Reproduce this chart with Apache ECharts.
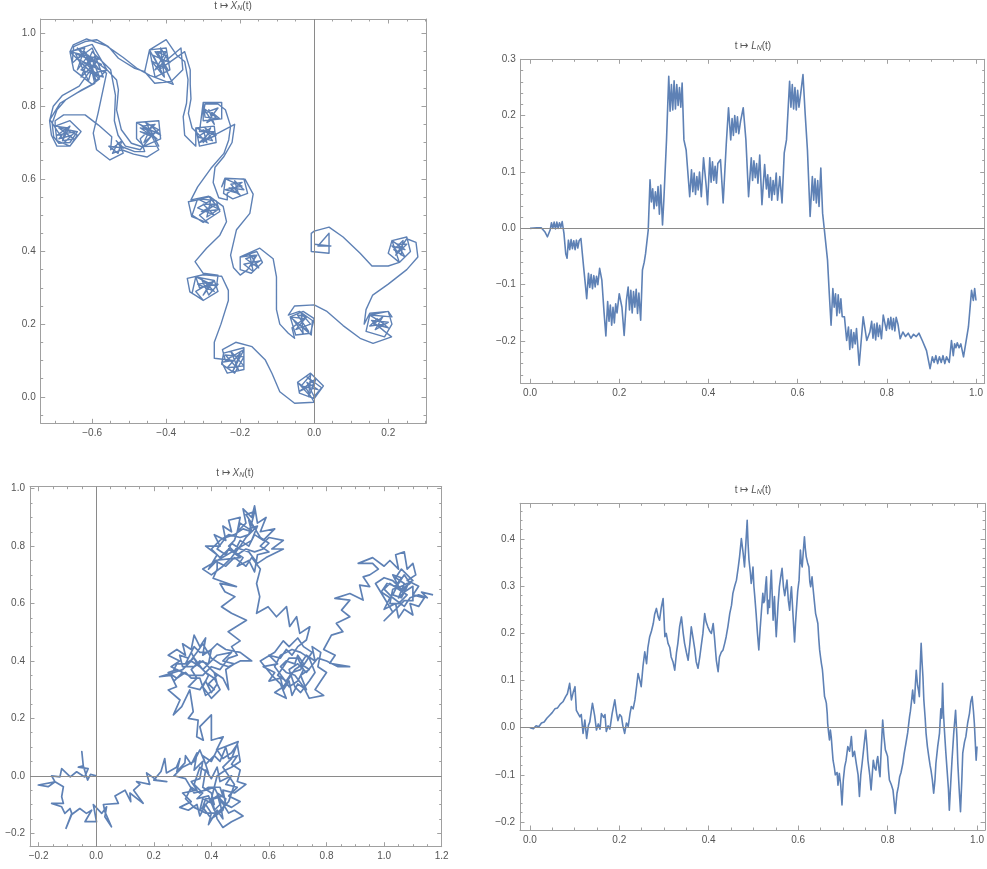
<!DOCTYPE html>
<html><head><meta charset="utf-8">
<script src="https://cdn.jsdelivr.net/npm/echarts@6/dist/echarts.min.js"></script>
<style>html,body{margin:0;padding:0;background:#fff}#c{width:987px;height:869px}</style>
</head><body><div id="c"></div>
<script>
// ---------- data ----------
const tlCurve = [
[0,0],[-0.02,0.04],[0.01,0.02],[-0.035,0.03],[-0.01,0.06],[-0.015,0.0],[0.005,0.05],[-0.04,0.015],[0.0,0.035],[-0.02,0.055],[0.02,0.025],[-0.005,-0.005],
[-0.045,0.04],[-0.01,0.065],[0.025,0.03],[0.0,-0.005],[-0.04,0.01],[-0.045,0.04],[-0.02,0.02],[0.0,-0.015],
[-0.053,-0.018],[-0.093,0.014],[-0.114,0.064],[-0.132,0.101],[-0.168,0.138],[-0.212,0.15],[-0.248,0.13],
[-0.24,0.1],[-0.19,0.13],[-0.22,0.07],[-0.2,0.12],[-0.235,0.08],[-0.19,0.085],[-0.225,0.125],[-0.205,0.075],[-0.24,0.115],[-0.19,0.11],[-0.215,0.065],[-0.25,0.09],
[-0.245,0.12],[-0.19,0.135],[-0.19,0.075],[-0.235,0.065],[-0.25,0.095],[-0.22,0.1],
[-0.27,0.106],[-0.27,0.15],[-0.252,0.2],[-0.232,0.265],[-0.232,0.293],[-0.25,0.332],[-0.3,0.336],[-0.343,0.326],[-0.336,0.289],[-0.3,0.266],
[-0.32,0.29],[-0.27,0.32],[-0.3,0.28],[-0.28,0.315],[-0.315,0.31],[-0.27,0.29],[-0.305,0.325],[-0.285,0.28],[-0.26,0.31],[-0.31,0.3],
[-0.32,0.33],[-0.27,0.32],[-0.26,0.29],[-0.3,0.265],[-0.33,0.285],[-0.32,0.33],[-0.264,0.303],
[-0.26,0.335],[-0.3,0.34],[-0.322,0.372],[-0.291,0.409],[-0.255,0.445],[-0.237,0.482],[-0.246,0.524],[-0.282,0.551],[-0.313,0.542],[-0.34,0.537],[-0.331,0.496],[-0.286,0.478],
[-0.31,0.5],[-0.265,0.53],[-0.3,0.53],[-0.27,0.5],[-0.315,0.52],[-0.28,0.54],[-0.29,0.495],[-0.26,0.515],[-0.305,0.51],[-0.275,0.525],
[-0.315,0.545],[-0.265,0.54],[-0.255,0.51],[-0.3,0.48],[-0.33,0.5],[-0.315,0.545],[-0.255,0.515],
[-0.285,0.552],[-0.333,0.542],[-0.315,0.578],[-0.279,0.629],[-0.244,0.67],[-0.231,0.707],[-0.226,0.745],[-0.24,0.79],[-0.26,0.806],[-0.295,0.806],
[-0.3,0.78],[-0.26,0.795],[-0.29,0.755],[-0.265,0.77],[-0.3,0.795],[-0.27,0.75],[-0.285,0.79],[-0.255,0.765],[-0.295,0.77],
[-0.3,0.81],[-0.25,0.81],[-0.25,0.765],[-0.3,0.76],[-0.3,0.81],
[-0.31,0.73],[-0.27,0.73],[-0.3,0.7],[-0.28,0.74],[-0.315,0.715],[-0.275,0.705],[-0.295,0.74],[-0.265,0.72],[-0.31,0.7],[-0.285,0.725],
[-0.32,0.74],[-0.27,0.745],[-0.265,0.7],[-0.31,0.69],[-0.32,0.74],
[-0.32,0.69],[-0.35,0.72],[-0.354,0.771],[-0.345,0.808],[-0.341,0.873],[-0.35,0.923],[-0.372,0.941],
[-0.4,0.983],[-0.445,0.955],[-0.458,0.895],[-0.431,0.863],[-0.387,0.868],[-0.355,0.9],[-0.36,0.96],
[-0.43,0.9],[-0.4,0.95],[-0.425,0.95],[-0.395,0.9],[-0.44,0.925],[-0.405,0.88],[-0.415,0.96],[-0.39,0.92],[-0.435,0.94],[-0.41,0.89],
[-0.445,0.955],[-0.4,0.96],[-0.39,0.9],[-0.43,0.88],[-0.445,0.955],
[-0.458,0.895],[-0.485,0.904],[-0.529,0.932],[-0.556,0.964],[-0.588,0.983],[-0.619,0.978],[-0.65,0.964],[-0.654,0.918],
[-0.62,0.95],[-0.58,0.9],[-0.64,0.93],[-0.6,0.96],[-0.57,0.88],[-0.63,0.9],[-0.59,0.94],[-0.61,0.87],[-0.645,0.945],[-0.575,0.915],[-0.615,0.935],[-0.59,0.87],[-0.6,0.91],[-0.64,0.96],[-0.56,0.9],[-0.6,0.89],[-0.625,0.915],[-0.58,0.93],
[-0.66,0.95],[-0.6,0.97],[-0.56,0.9],[-0.6,0.86],[-0.65,0.9],[-0.66,0.95],[-0.62,0.91],[-0.58,0.875],
[-0.6,0.86],[-0.628,0.845],[-0.672,0.817],[-0.695,0.79],[-0.708,0.753],[-0.704,0.716],[-0.69,0.698],[-0.66,0.7],[-0.64,0.73],
[-0.69,0.74],[-0.65,0.71],[-0.68,0.705],[-0.66,0.745],[-0.695,0.72],[-0.645,0.73],[-0.675,0.7],[-0.655,0.72],[-0.69,0.71],[-0.665,0.74],
[-0.7,0.745],[-0.66,0.76],[-0.63,0.73],[-0.66,0.69],[-0.695,0.705],[-0.7,0.745],
[-0.7,0.76],[-0.677,0.776],[-0.619,0.776],[-0.583,0.748],[-0.547,0.716],
[-0.55,0.68],[-0.52,0.705],[-0.53,0.67],[-0.555,0.69],[-0.515,0.685],[-0.535,0.705],
[-0.521,0.689],[-0.485,0.675],[-0.458,0.675],
[-0.47,0.71],[-0.43,0.75],[-0.465,0.745],[-0.425,0.71],[-0.47,0.73],[-0.435,0.72],[-0.455,0.755],[-0.42,0.735],[-0.46,0.7],[-0.44,0.745],[-0.415,0.72],
[-0.48,0.755],[-0.42,0.76],[-0.415,0.71],[-0.46,0.69],[-0.48,0.71],[-0.48,0.755],[-0.44,0.73],
[-0.42,0.69],[-0.467,0.689],[-0.494,0.698],[-0.521,0.735],[-0.534,0.79],[-0.529,0.845],[-0.534,0.872],[-0.56,0.9],
[-0.6,0.93],[-0.58,0.88],[-0.62,0.92],
[-0.561,0.891],[-0.584,0.781],[-0.597,0.726],[-0.588,0.68],[-0.552,0.652],[-0.516,0.671],
[-0.53,0.7],[-0.545,0.67],[-0.52,0.68],
[-0.488,0.668],[-0.452,0.66],[-0.42,0.68],
[-0.44,0.72],[-0.47,0.74],[-0.43,0.73],
[-0.47,0.68],[-0.51,0.69],[-0.53,0.72],[-0.54,0.76],[-0.537,0.83],[-0.55,0.9],
[-0.6,0.95],[-0.63,0.88],[-0.59,0.92],
[-0.635,0.855],[-0.68,0.83],[-0.705,0.8],[-0.715,0.76],[-0.71,0.72],[-0.695,0.69],
[-0.66,0.69],[-0.64,0.72],[-0.67,0.735],[-0.68,0.71],
[-0.714,0.763],[-0.687,0.808],[-0.642,0.836],[-0.593,0.863],
[-0.61,0.94],[-0.64,0.9],[-0.62,0.96],[-0.66,0.95],
[-0.651,0.969],[-0.615,0.985],[-0.561,0.966],[-0.516,0.934],[-0.48,0.905],[-0.444,0.885],[-0.381,0.86],
[-0.41,0.92],[-0.43,0.95],[-0.4,0.94],[-0.42,0.9],
[-0.35,0.95],[-0.335,0.9],[-0.335,0.86],[-0.333,0.82],[-0.34,0.78],[-0.33,0.74],[-0.31,0.72],
[-0.29,0.7],[-0.3,0.735],[-0.27,0.72],
[-0.215,0.75],[-0.222,0.7],[-0.245,0.66],[-0.268,0.632],[-0.273,0.59],[-0.258,0.548],[-0.235,0.542],
[-0.235,0.56],[-0.195,0.59],[-0.225,0.585],[-0.2,0.555],[-0.23,0.575],[-0.19,0.57],[-0.215,0.595],[-0.205,0.56],[-0.24,0.57],[-0.195,0.58],
[-0.24,0.6],[-0.19,0.6],[-0.18,0.56],[-0.22,0.545],[-0.245,0.56],[-0.24,0.6],
[-0.25,0.578],[-0.241,0.602],[-0.187,0.599],[-0.165,0.558],[-0.174,0.505],
[-0.21,0.46],[-0.226,0.39],[-0.218,0.355],[-0.2,0.335],
[-0.18,0.35],[-0.155,0.39],[-0.185,0.38],[-0.15,0.355],[-0.175,0.395],[-0.165,0.345],[-0.19,0.365],[-0.145,0.375],[-0.17,0.36],[-0.16,0.39],
[-0.2,0.385],[-0.155,0.4],[-0.14,0.37],[-0.17,0.34],[-0.2,0.35],[-0.2,0.385],
[-0.147,0.409],[-0.111,0.38],[-0.102,0.33],[-0.102,0.24],[-0.093,0.2],[-0.07,0.175],[-0.053,0.161],
[-0.06,0.19],[-0.02,0.22],[-0.045,0.225],[-0.015,0.18],[-0.055,0.21],[-0.03,0.175],[-0.035,0.23],[-0.01,0.2],[-0.05,0.185],[-0.025,0.215],
[-0.065,0.22],[-0.03,0.235],[0.0,0.215],[-0.01,0.175],[-0.05,0.17],[-0.065,0.22],
[-0.008,0.17],[-0.005,0.21],[-0.04,0.235],[-0.07,0.225],[-0.053,0.25],[0.0,0.253],[0.033,0.236],[0.078,0.196],[0.124,0.161],[0.159,0.147],[0.209,0.165],
[0.19,0.18],[0.155,0.21],[0.2,0.205],[0.165,0.185],[0.185,0.22],[0.16,0.2],[0.2,0.19],[0.17,0.215],[0.15,0.195],[0.19,0.2],
[0.15,0.225],[0.2,0.235],[0.21,0.2],[0.19,0.165],[0.14,0.18],[0.15,0.225],
[0.21,0.22],[0.2,0.235],[0.15,0.23],[0.135,0.2],[0.14,0.24],[0.158,0.28],[0.2,0.31],[0.25,0.35],[0.28,0.385],[0.275,0.425],[0.25,0.435],
[0.22,0.39],[0.25,0.42],[0.225,0.42],[0.245,0.385],[0.215,0.405],[0.24,0.43],[0.235,0.39],[0.21,0.415],[0.245,0.405],
[0.21,0.43],[0.25,0.44],[0.26,0.4],[0.23,0.37],[0.2,0.395],[0.21,0.43],
[0.23,0.37],[0.2,0.36],[0.156,0.36],[0.124,0.395],[0.078,0.44],[0.04,0.467],[0.0,0.456],
[-0.008,0.45],[-0.008,0.4],[0.04,0.395],[0.04,0.45],[0.01,0.415],[0.045,0.415],[0.0,0.42]
];

const trCurve = [
[0,0],[0.015,0.001],[0.025,0.001],[0.033,-0.006],[0.039,-0.015],[0.045,-0.003],[0.048,0.010],[0.051,0.000],[0.054,0.011],[0.057,-0.001],[0.060,0.011],[0.063,0.000],[0.066,0.010],[0.069,0.002],[0.072,0.012],
[0.076,-0.009],[0.080,-0.045],[0.083,-0.053],[0.086,-0.021],[0.089,-0.038],[0.092,-0.020],[0.095,-0.036],[0.098,-0.022],[0.101,-0.038],[0.104,-0.021],[0.107,-0.035],[0.110,-0.022],[0.114,-0.018],
[0.120,-0.068],[0.124,-0.100],[0.127,-0.125],[0.131,-0.080],[0.134,-0.105],[0.137,-0.082],[0.140,-0.107],[0.143,-0.084],[0.146,-0.104],[0.149,-0.085],[0.152,-0.100],[0.156,-0.071],[0.161,-0.092],
[0.166,-0.150],[0.170,-0.191],[0.174,-0.130],[0.177,-0.165],[0.180,-0.136],[0.183,-0.172],[0.186,-0.140],[0.189,-0.168],[0.192,-0.134],[0.195,-0.150],[0.200,-0.116],[0.206,-0.140],[0.211,-0.190],
[0.216,-0.128],[0.220,-0.104],[0.223,-0.145],[0.226,-0.110],[0.229,-0.150],[0.232,-0.112],[0.235,-0.140],[0.238,-0.108],[0.241,-0.151],[0.244,-0.115],[0.248,-0.163],
[0.252,-0.074],[0.256,-0.060],[0.259,-0.045],[0.265,-0.003],[0.269,0.086],[0.272,0.047],[0.275,0.070],[0.278,0.035],[0.281,0.065],[0.284,0.040],[0.287,0.074],[0.290,0.025],[0.293,0.077],[0.297,0.006],[0.300,0.050],
[0.306,0.157],[0.311,0.270],[0.314,0.208],[0.317,0.255],[0.320,0.210],[0.323,0.262],[0.326,0.212],[0.329,0.255],[0.332,0.218],[0.335,0.250],[0.338,0.215],[0.341,0.258],[0.345,0.157],[0.350,0.139],
[0.358,0.056],[0.362,0.104],[0.365,0.065],[0.368,0.098],[0.371,0.060],[0.374,0.092],[0.377,0.068],[0.380,0.100],[0.384,0.056],[0.389,0.125],[0.395,0.075],[0.398,0.042],
[0.403,0.125],[0.406,0.082],[0.409,0.118],[0.412,0.085],[0.415,0.110],[0.418,0.080],[0.421,0.115],[0.427,0.122],[0.433,0.045],
[0.440,0.150],[0.445,0.214],[0.450,0.157],[0.453,0.195],[0.456,0.165],[0.459,0.200],[0.462,0.170],[0.465,0.198],[0.468,0.168],[0.472,0.190],[0.478,0.214],[0.484,0.157],[0.490,0.056],
[0.496,0.125],[0.499,0.085],[0.502,0.120],[0.505,0.090],[0.508,0.115],[0.511,0.080],[0.515,0.130],[0.520,0.042],
[0.526,0.113],[0.530,0.070],[0.533,0.095],[0.536,0.055],[0.539,0.090],[0.542,0.050],[0.545,0.085],[0.548,0.060],[0.552,0.098],[0.555,0.050],[0.560,0.092],[0.565,0.045],
[0.570,0.134],[0.575,0.157],[0.582,0.261],[0.585,0.215],[0.588,0.255],[0.591,0.212],[0.594,0.250],[0.597,0.210],[0.600,0.245],[0.603,0.215],[0.607,0.240],[0.612,0.273],
[0.617,0.202],[0.622,0.139],[0.628,0.021],[0.633,0.092],[0.636,0.050],[0.639,0.088],[0.642,0.045],[0.645,0.085],[0.648,0.039],[0.652,0.107],[0.656,0.027],
[0.660,-0.003],[0.667,-0.056],[0.671,-0.116],[0.675,-0.172],[0.679,-0.107],[0.682,-0.140],[0.685,-0.116],[0.688,-0.155],[0.691,-0.118],[0.694,-0.150],[0.697,-0.125],[0.700,-0.157],
[0.705,-0.157],[0.710,-0.199],[0.714,-0.175],[0.717,-0.215],[0.720,-0.180],[0.723,-0.212],[0.726,-0.185],[0.729,-0.205],[0.732,-0.178],[0.738,-0.243],
[0.747,-0.157],[0.755,-0.199],[0.762,-0.184],[0.766,-0.165],[0.769,-0.195],[0.772,-0.170],[0.775,-0.198],[0.778,-0.168],[0.781,-0.192],[0.784,-0.172],[0.788,-0.196],
[0.792,-0.154],[0.799,-0.181],[0.803,-0.160],[0.806,-0.178],[0.809,-0.158],[0.812,-0.180],[0.815,-0.160],[0.818,-0.182],[0.821,-0.158],[0.825,-0.170],
[0.830,-0.196],[0.836,-0.184],[0.842,-0.192],[0.848,-0.186],[0.854,-0.195],[0.860,-0.188],[0.866,-0.192],[0.872,-0.186],[0.880,-0.200],
[0.889,-0.217],[0.897,-0.249],[0.902,-0.228],[0.906,-0.238],[0.910,-0.226],[0.914,-0.240],[0.918,-0.228],[0.922,-0.238],[0.926,-0.226],[0.930,-0.240],[0.934,-0.228],[0.940,-0.238],
[0.945,-0.199],[0.949,-0.226],[0.952,-0.205],[0.955,-0.212],[0.958,-0.203],[0.962,-0.212],[0.966,-0.205],[0.972,-0.228],[0.983,-0.175],[0.990,-0.110],[0.994,-0.128],[0.997,-0.107],[1.000,-0.128]
];

const blCurve = [
[0,0],[-0.02,0.005],[-0.03,-0.015],[-0.045,0.035],[-0.05,0.084],[-0.045,0.035],[-0.062,0.03],[-0.028,0.025],[-0.04,-0.004],[-0.068,0.014],[-0.09,-0.004],[-0.12,0.025],[-0.126,-0.004],[-0.155,0.0],[-0.143,-0.021],[-0.201,-0.032],[-0.167,-0.038],[-0.143,-0.021],[-0.114,-0.038],[-0.12,-0.073],[-0.114,-0.096],[-0.155,-0.096],[-0.12,-0.108],[-0.109,-0.131],[-0.091,-0.114],[-0.085,-0.131],[-0.105,-0.183],[-0.085,-0.135],[-0.057,-0.114],[-0.034,-0.131],[-0.016,-0.12],[-0.039,-0.16],[0.001,-0.16],[-0.01,-0.1],[0.019,-0.131],[0.036,-0.108],[0.03,-0.143],[0.053,-0.178],
[0.03,-0.125],[0.025,-0.1],[0.077,-0.096],[0.065,-0.07],[0.1,-0.05],[0.12,-0.09],[0.117,-0.06],[0.163,-0.096],[0.13,-0.05],[0.152,-0.03],[0.14,-0.02],[0.186,-0.03],[0.175,0.01],[0.21,-0.015],[0.245,-0.02],[0.2,-0.015],[0.225,0.015],[0.238,0.06],[0.244,0.01],[0.279,0.03],[0.291,0.06],[0.28,0.015],[0.308,0.045],
[0.31,0.07],[0.33,0.04],[0.35,0.08],[0.34,0.02],[0.37,0.05],[0.36,-0.01],[0.33,-0.02],[0.35,-0.05],[0.3,-0.06],[0.33,-0.09],[0.29,-0.11],[0.32,-0.12],[0.35,-0.1],[0.36,-0.14],[0.38,-0.1],[0.4,-0.13],[0.39,-0.17],[0.42,-0.12],[0.44,-0.15],[0.43,-0.09],[0.47,-0.11],[0.5,-0.09],[0.46,-0.07],[0.49,-0.04],[0.45,-0.03],[0.47,0.0],[0.43,-0.02],[0.42,0.03],[0.4,-0.01],[0.38,0.02],[0.37,-0.04],[0.4,-0.06],[0.41,-0.1],[0.37,-0.08],[0.36,-0.12],[0.39,-0.09],[0.42,-0.07],[0.45,-0.1],[0.44,-0.05],[0.48,-0.06],[0.52,-0.03],[0.49,-0.02],[0.5,0.02],[0.47,0.04],[0.49,0.07],[0.46,0.06],[0.45,0.1],[0.43,0.05],[0.41,0.07],[0.38,0.04],[0.36,0.09],[0.34,0.05],[0.3,0.03],[0.27,0.0],[0.31,-0.01],[0.34,-0.06],[0.38,-0.05],[0.41,-0.04],[0.43,-0.08],[0.46,-0.13],[0.48,-0.12],[0.51,-0.14],[0.47,-0.16],[0.44,-0.18],[0.42,-0.15],[0.4,-0.08],[0.42,0.0],[0.45,0.02],[0.47,0.03],[0.5,0.05],[0.49,0.11],[0.47,0.08],
[0.44,0.06],[0.42,0.09],[0.4,0.05],[0.37,0.07],[0.39,0.01],[0.36,0.03],[0.34,-0.03],[0.37,-0.06],[0.35,-0.08],[0.39,-0.07],[0.41,-0.12],[0.43,-0.1],[0.42,-0.06],[0.45,-0.08],[0.44,-0.12],[0.4,-0.15],[0.37,-0.11],[0.38,-0.08],[0.41,-0.08],[0.44,-0.07],[0.43,-0.04],[0.39,-0.04],[0.36,-0.06],[0.33,-0.04],[0.31,-0.08],[0.34,-0.11],[0.38,-0.13],[0.42,-0.13],[0.46,-0.09],[0.48,-0.03],[0.46,0.0],[0.44,0.03],[0.47,0.06],
[0.493,0.119],[0.418,0.09],[0.441,0.136],[0.4,0.124],[0.4,0.212],[0.36,0.171],[0.372,0.124],[0.349,0.136],[0.354,0.194],[0.32,0.2],[0.337,0.223],[0.325,0.299],[0.297,0.241],[0.268,0.212],[0.291,0.264],[0.25,0.299],[0.279,0.31],[0.256,0.357],
[0.27,0.33],[0.3,0.36],[0.26,0.38],[0.29,0.4],[0.25,0.42],[0.28,0.44],[0.31,0.42],[0.3,0.46],[0.33,0.44],[0.34,0.49],[0.36,0.45],[0.38,0.48],[0.37,0.42],[0.4,0.44],[0.39,0.39],[0.36,0.4],[0.33,0.37],[0.35,0.34],[0.32,0.31],[0.36,0.3],[0.38,0.33],[0.4,0.29],[0.42,0.32],[0.41,0.36],[0.44,0.34],[0.46,0.3],[0.45,0.37],[0.48,0.39],[0.44,0.4],[0.47,0.43],[0.42,0.42],[0.4,0.4],[0.37,0.37],[0.34,0.41],[0.31,0.39],[0.33,0.43],[0.35,0.39],[0.38,0.36],[0.41,0.34],[0.43,0.3],[0.4,0.27],[0.37,0.31],[0.39,0.35],[0.36,0.38],[0.33,0.4],[0.3,0.37],[0.27,0.36],[0.22,0.345],[0.26,0.35],[0.28,0.39],[0.32,0.39],[0.35,0.43],[0.37,0.46],[0.4,0.41],[0.43,0.39],[0.46,0.38],[0.5,0.4],[0.54,0.4],
[0.5,0.43],[0.45,0.44],[0.42,0.46],[0.39,0.43],[0.36,0.43],[0.34,0.45],[0.32,0.41],[0.29,0.42],[0.3,0.38],[0.34,0.38],[0.37,0.4],[0.4,0.37],[0.42,0.35],[0.39,0.32],[0.41,0.3],[0.38,0.28],[0.36,0.34],[0.33,0.34],[0.31,0.36],[0.28,0.34],[0.25,0.36],[0.28,0.37],[0.32,0.35],[0.37,0.35],[0.4,0.38],[0.43,0.37],[0.46,0.41],[0.49,0.42],
[0.47,0.45],[0.5,0.47],[0.458,0.502],[0.522,0.542],[0.47,0.566],[0.435,0.589],[0.482,0.624],[0.447,0.641],[0.43,0.67],[0.487,0.659],[0.406,0.688],[0.42,0.72],
[0.42,0.75],[0.39,0.72],[0.42,0.77],[0.38,0.8],[0.43,0.8],[0.41,0.84],[0.45,0.82],[0.44,0.87],[0.47,0.85],[0.46,0.89],[0.5,0.9],[0.49,0.85],[0.52,0.88],[0.51,0.93],[0.54,0.9],[0.55,0.94],[0.56,0.88],[0.59,0.9],[0.57,0.85],[0.62,0.86],[0.58,0.82],[0.55,0.84],[0.53,0.8],[0.5,0.82],[0.48,0.78],[0.51,0.76],[0.49,0.73],[0.53,0.75],[0.55,0.71],[0.56,0.77],[0.6,0.78],[0.57,0.8],[0.6,0.83],[0.65,0.82],[0.61,0.79],[0.65,0.79],[0.59,0.76],[0.56,0.74],[0.53,0.78],[0.5,0.79],[0.47,0.81],[0.45,0.77],[0.42,0.79],[0.45,0.83],[0.48,0.84],[0.51,0.86],[0.54,0.85],[0.53,0.89],[0.55,0.86],[0.52,0.83],[0.5,0.8],[0.47,0.76],[0.44,0.73],[0.4,0.7],[0.37,0.72],
[0.54,0.82],[0.56,0.87],[0.53,0.86],[0.5,0.88],[0.48,0.82],[0.46,0.8],[0.49,0.77],[0.52,0.79],[0.55,0.78],[0.58,0.79],[0.6,0.81],[0.57,0.83],[0.54,0.88],[0.52,0.91],[0.55,0.92],[0.53,0.84],[0.5,0.83],[0.46,0.84],[0.43,0.82],[0.4,0.79],[0.43,0.76],[0.46,0.79],[0.5,0.76],
[0.41,0.75],[0.45,0.73],[0.48,0.76],[0.52,0.73],[0.54,0.76],[0.57,0.72],
[0.557,0.67],[0.568,0.624],[0.557,0.566],[0.597,0.589],[0.626,0.554],[0.661,0.589],[0.672,0.52],[0.696,0.554],[0.707,0.496],[0.742,0.519],[0.73,0.473],
[0.7,0.45],[0.68,0.42],[0.66,0.44],[0.64,0.41],[0.6,0.42],[0.63,0.39],[0.58,0.38],[0.62,0.36],[0.6,0.33],[0.64,0.34],[0.65,0.3],[0.67,0.33],[0.68,0.28],[0.7,0.32],[0.73,0.3],[0.71,0.35],[0.74,0.37],[0.71,0.39],[0.73,0.42],[0.76,0.4],[0.75,0.45],[0.78,0.43],[0.77,0.38],[0.8,0.36],[0.78,0.33],[0.76,0.3],[0.79,0.28],[0.74,0.27],[0.72,0.31],[0.69,0.35],[0.66,0.36],[0.64,0.38],[0.66,0.4],[0.69,0.39],[0.7,0.42],[0.72,0.39],[0.69,0.37],[0.67,0.34],[0.65,0.31],[0.62,0.29],[0.66,0.27],[0.64,0.32],[0.61,0.35],[0.57,0.4],[0.62,0.43],[0.65,0.47],[0.67,0.45],[0.7,0.48],[0.72,0.45],[0.75,0.43],
[0.73,0.4],[0.71,0.37],[0.68,0.36],[0.66,0.33],[0.63,0.35],[0.65,0.38],[0.67,0.41],[0.7,0.41],[0.72,0.37],[0.7,0.33],[0.67,0.31],[0.65,0.34],[0.62,0.38],[0.64,0.42],[0.68,0.44],[0.71,0.43],[0.74,0.41],[0.76,0.36],[0.74,0.33],[0.71,0.29],[0.69,0.31],[0.67,0.37],[0.7,0.39],[0.73,0.36],[0.77,0.41],
[0.8,0.4],[0.84,0.38],[0.88,0.38],
[0.811,0.392],[0.83,0.42],[0.79,0.44],[0.817,0.49],[0.857,0.502],[0.834,0.531],[0.881,0.554],[0.852,0.577],[0.881,0.612],[0.829,0.618],[0.881,0.635],[0.927,0.612],[0.915,0.664],[0.95,0.659],[0.927,0.693],
[0.95,0.7],[0.98,0.72],[0.96,0.74],[0.91,0.74],[0.96,0.76],[1.0,0.73],[1.02,0.75],[1.05,0.72],[1.04,0.77],[1.07,0.78],[1.08,0.72],[1.1,0.74],[1.11,0.7],[1.08,0.68],[1.12,0.66],[1.1,0.63],[1.14,0.62],[1.12,0.59],[1.09,0.6],[1.1,0.56],[1.07,0.58],[1.05,0.55],[1.04,0.6],[1.0,0.58],[1.02,0.62],[0.99,0.64],[1.01,0.67],[1.04,0.66],[1.06,0.69],[1.03,0.7],[1.06,0.64],[1.08,0.66],[1.06,0.62],[1.03,0.63],[1.05,0.67],[1.07,0.7],[1.09,0.67],[1.06,0.65],[1.03,0.68],[1.0,0.69],[0.97,0.67],[1.0,0.62],[1.03,0.57],[1.0,0.54],[1.04,0.58],[1.07,0.61],[1.1,0.61],
[1.1,0.66],[1.07,0.64],[1.05,0.62],[1.07,0.67],[1.04,0.69],[1.06,0.72],[1.08,0.7],[1.1,0.68],[1.06,0.66],[1.03,0.65],[1.02,0.6],[1.05,0.6],[1.08,0.63],[1.05,0.65],[1.02,0.67],[1.0,0.65],[1.03,0.62],[1.07,0.59],[1.09,0.62],[1.12,0.63],[1.15,0.62],[1.13,0.64],[1.17,0.63]
];

const brCurve = [
[0,0],[0.008,-0.002],[0.014,0.004],[0.020,0.002],[0.026,0.010],[0.032,0.012],[0.038,0.020],[0.044,0.026],[0.050,0.032],[0.056,0.040],[0.062,0.042],[0.068,0.050],[0.074,0.055],[0.080,0.066],[0.084,0.072],[0.086,0.069],[0.089,0.094],[0.093,0.059],[0.097,0.075],[0.101,0.087],[0.104,0.037],[0.108,0.040],[0.112,0.023],[0.115,0.028],[0.119,-0.012],[0.123,0.016],[0.127,-0.023],[0.131,0.005],[0.134,0.012],[0.140,0.052],[0.145,0.025],[0.149,-0.005],[0.153,0.008],[0.157,-0.003],[0.160,0.030],[0.165,0.022],[0.168,0.028],[0.171,-0.008],[0.175,0.004],[0.179,-0.003],[0.184,0.030],[0.190,0.059],[0.194,0.030],[0.197,0.015],[0.201,0.028],[0.205,0.023],[0.208,0.004],[0.212,-0.012],[0.216,0.010],[0.220,0.003],[0.224,0.030],[0.227,0.045],[0.231,0.040],[0.235,0.059],[0.239,0.090],[0.242,0.115],[0.246,0.100],[0.249,0.087],[0.253,0.130],[0.257,0.161],[0.261,0.136],[0.264,0.170],[0.268,0.193],[0.272,0.205],[0.276,0.221],[0.279,0.240],[0.283,0.253],[0.287,0.235],[0.290,0.228],[0.294,0.255],[0.298,0.274],[0.302,0.193],[0.305,0.200],[0.309,0.179],[0.313,0.170],[0.316,0.150],[0.320,0.140],[0.324,0.122],[0.328,0.160],[0.331,0.179],[0.335,0.215],[0.339,0.235],[0.343,0.200],[0.346,0.179],[0.350,0.160],[0.354,0.143],[0.358,0.180],[0.361,0.214],[0.365,0.190],[0.369,0.165],[0.372,0.140],[0.376,0.126],[0.380,0.150],[0.383,0.172],[0.387,0.200],[0.391,0.242],[0.394,0.225],[0.398,0.214],[0.402,0.205],[0.406,0.200],[0.410,0.221],[0.413,0.190],[0.417,0.143],[0.421,0.119],[0.424,0.150],[0.428,0.160],[0.432,0.165],[0.436,0.180],[0.439,0.193],[0.443,0.215],[0.447,0.242],[0.451,0.260],[0.454,0.285],[0.458,0.300],[0.462,0.313],[0.466,0.340],[0.469,0.363],[0.473,0.401],[0.477,0.370],[0.480,0.341],[0.483,0.390],[0.486,0.440],[0.488,0.390],[0.490,0.356],[0.493,0.330],[0.495,0.306],[0.497,0.320],[0.499,0.341],[0.501,0.300],[0.503,0.278],[0.506,0.242],[0.509,0.200],[0.512,0.165],[0.515,0.210],[0.518,0.249],[0.521,0.285],[0.523,0.265],[0.525,0.270],[0.527,0.300],[0.529,0.320],[0.532,0.242],[0.534,0.270],[0.536,0.255],[0.538,0.300],[0.540,0.334],[0.542,0.280],[0.544,0.228],[0.546,0.260],[0.547,0.278],[0.549,0.230],[0.551,0.193],[0.555,0.260],[0.558,0.299],[0.561,0.320],[0.564,0.338],[0.567,0.300],[0.570,0.280],[0.573,0.300],[0.575,0.313],[0.578,0.270],[0.581,0.249],[0.583,0.280],[0.585,0.299],[0.589,0.230],[0.592,0.182],[0.594,0.220],[0.596,0.249],[0.599,0.290],[0.602,0.313],[0.605,0.377],[0.607,0.350],[0.609,0.341],[0.612,0.380],[0.614,0.405],[0.616,0.380],[0.618,0.363],[0.621,0.350],[0.624,0.341],[0.626,0.310],[0.628,0.299],[0.631,0.320],[0.633,0.299],[0.636,0.270],[0.639,0.242],[0.642,0.230],[0.644,0.221],[0.646,0.190],[0.648,0.165],[0.650,0.150],[0.652,0.136],[0.654,0.125],[0.655,0.115],[0.657,0.090],[0.659,0.066],[0.661,0.060],[0.663,0.052],[0.665,0.030],[0.666,0.009],[0.668,-0.010],[0.670,-0.026],[0.672,-0.005],[0.674,-0.020],[0.676,-0.045],[0.678,-0.069],[0.681,-0.085],[0.683,-0.100],[0.685,-0.104],[0.687,-0.095],[0.689,-0.122],[0.692,-0.097],[0.695,-0.120],[0.698,-0.164],[0.701,-0.110],[0.704,-0.083],[0.707,-0.070],[0.711,-0.040],[0.715,-0.050],[0.719,-0.019],[0.722,-0.061],[0.726,-0.050],[0.730,-0.076],[0.734,-0.100],[0.737,-0.146],[0.740,-0.100],[0.743,-0.076],[0.747,-0.040],[0.751,-0.005],[0.754,-0.040],[0.756,-0.069],[0.760,-0.100],[0.763,-0.132],[0.766,-0.095],[0.768,-0.069],[0.771,-0.085],[0.774,-0.090],[0.776,-0.070],[0.778,-0.061],[0.781,-0.090],[0.783,-0.104],[0.786,-0.040],[0.789,0.016],[0.792,-0.020],[0.795,-0.047],[0.798,-0.055],[0.800,-0.061],[0.802,-0.090],[0.804,-0.111],[0.808,-0.120],[0.812,-0.132],[0.815,-0.160],[0.817,-0.182],[0.819,-0.160],[0.821,-0.139],[0.824,-0.125],[0.827,-0.104],[0.830,-0.095],[0.834,-0.076],[0.837,-0.055],[0.841,-0.033],[0.845,-0.010],[0.849,0.023],[0.851,0.035],[0.853,0.052],[0.856,0.080],[0.858,0.060],[0.860,0.052],[0.862,0.090],[0.864,0.122],[0.867,0.090],[0.869,0.080],[0.871,0.066],[0.873,0.130],[0.875,0.179],[0.877,0.140],[0.879,0.108],[0.881,0.059],[0.884,0.020],[0.886,-0.012],[0.889,-0.040],[0.892,-0.061],[0.895,-0.080],[0.897,-0.090],[0.900,-0.110],[0.903,-0.139],[0.906,-0.110],[0.908,-0.076],[0.912,-0.040],[0.916,-0.012],[0.919,0.040],[0.921,0.020],[0.923,0.094],[0.925,0.030],[0.927,-0.005],[0.930,-0.050],[0.933,-0.090],[0.936,-0.130],[0.938,-0.175],[0.941,-0.120],[0.944,-0.069],[0.948,-0.010],[0.952,0.037],[0.955,-0.020],[0.957,-0.076],[0.960,-0.130],[0.963,-0.178],[0.966,-0.110],[0.968,-0.054],[0.972,-0.030],[0.975,-0.019],[0.979,0.010],[0.983,0.030],[0.986,0.055],[0.989,0.066],[0.992,0.035],[0.994,0.009],[0.996,-0.030],[0.998,-0.069],[1.000,-0.040]
];

const tlXTicks = [-0.6,-0.4,-0.2,0,0.2];
const tlYTicks = [0,0.2,0.4,0.6,0.8,1.0];
const trXTicks = [0,0.2,0.4,0.6,0.8,1.0];
const trYTicks = [-0.2,-0.1,0,0.1,0.2,0.3];
const blXTicks = [-0.2,0,0.2,0.4,0.6,0.8,1.0,1.2];
const blYTicks = [-0.2,0,0.2,0.4,0.6,0.8,1.0];
const brXTicks = [0,0.2,0.4,0.6,0.8,1.0];
const brYTicks = [-0.2,-0.1,0,0.1,0.2,0.3,0.4];
const titleX = '{a|t ↦ }{i|X}{s|N}{a|(t)}';
const titleL = '{a|t ↦ }{i|L}{s|N}{a|(t)}';

// ---------- layout / style ----------
const FONT = 'Liberation Sans, Arial, sans-serif';
const FRAME = '#a0a0a0';
const LABEL = '#555555';
const BLUE = '#5E81B5';

function minorValues(min, max, step) {
  const out = [];
  for (let k = Math.ceil(min / step - 1e-9); k * step <= max + 1e-9; k++) out.push(+(k * step).toFixed(4));
  return out;
}
function fmt(v) {
  const s = Math.abs(v).toFixed(1);
  return (v < -1e-9 ? '\u2212' : '') + s;
}

const panels = [
  {grid:{left:40.7, top:19, width:385.3, height:404.3}, x:[-0.739,0.302], y:[-0.073,1.04], xt:tlXTicks, yt:tlYTicks, xs:0.05, ys:0.05, data:tlCurve, vline:true, hline:false, title:titleX, tx:233, ty:6, lw:1.4},
  {grid:{left:520.7, top:59.3, width:464, height:324}, x:[-0.021,1.0195], y:[-0.275,0.3], xt:trXTicks, yt:trYTicks, xs:0.05, ys:0.02, data:trCurve, vline:false, hline:true, title:titleL, tx:753, ty:46, lw:1.6},
  {grid:{left:30, top:486.7, width:411.7, height:360}, x:[-0.23,1.2], y:[-0.247,1.007], xt:blXTicks, yt:blYTicks, xs:0.05, ys:0.05, data:blCurve, vline:true, hline:true, title:titleX, tx:235, ty:473, lw:1.7},
  {grid:{left:520, top:503.3, width:465.7, height:326.7}, x:[-0.022,1.018], y:[-0.217,0.476], xt:brXTicks, yt:brYTicks, xs:0.05, ys:0.02, data:brCurve, vline:false, hline:true, title:titleL, tx:753, ty:490, lw:1.6}
];

const grids = [], xAxes = [], yAxes = [], series = [], graphics = [];
panels.forEach((p, i) => {
  grids.push(Object.assign({containLabel:false}, p.grid));
  const mk = (dim, pos, withLine, withLabel, ticks, len) => ({
    gridIndex: i, type: 'value', position: pos,
    min: dim === 'x' ? p.x[0] : p.y[0], max: dim === 'x' ? p.x[1] : p.y[1],
    axisLine: {show: withLine, onZero: false, lineStyle: {color: FRAME, width: 1}},
    axisTick: {show: true, inside: true, length: len, customValues: ticks, lineStyle: {color: FRAME, width: 1}},
    axisLabel: {show: withLabel, customValues: ticks, formatter: fmt, color: LABEL, fontSize: 10, fontFamily: FONT, margin: 5},
    splitLine: {show: false}
  });
  const xm = minorValues(p.x[0], p.x[1], p.xs), ym = minorValues(p.y[0], p.y[1], p.ys);
  xAxes.push(mk('x','bottom',true,true,p.xt,4.5), mk('x','bottom',false,false,xm,2.5),
             mk('x','top',true,false,p.xt,4.5), mk('x','top',false,false,xm,2.5));
  yAxes.push(mk('y','left',true,true,p.yt,4.5), mk('y','left',false,false,ym,2.5),
             mk('y','right',true,false,p.yt,4.5), mk('y','right',false,false,ym,2.5));
  const ml = [];
  if (p.vline) ml.push({xAxis: 0});
  if (p.hline) ml.push({yAxis: 0});
  series.push({
    type: 'line', xAxisIndex: 4*i, yAxisIndex: 4*i, data: [], z: 1, silent: true,
    markLine: {silent: true, symbol: 'none', animation: false, label: {show: false},
      lineStyle: {color: '#8a8a8a', width: 1, type: 'solid'}, data: ml}
  });
  series.push({
    type: 'line', xAxisIndex: 4*i, yAxisIndex: 4*i, data: p.data, z: 2,
    showSymbol: false, symbol: 'none', smooth: false, silent: true,
    lineStyle: {color: BLUE, width: p.lw, join: 'round'}
  });
  graphics.push({
    type: 'text', x: p.tx, y: p.ty,
    style: {
      text: p.title, align: 'center', verticalAlign: 'middle', fill: LABEL,
      rich: {
        a: {fontSize: 10, fontFamily: FONT, fill: LABEL, color: LABEL, lineHeight: 12},
        i: {fontSize: 10, fontFamily: FONT, fontStyle: 'italic', fill: LABEL, color: LABEL, lineHeight: 12},
        s: {fontSize: 7, fontFamily: FONT, fontStyle: 'italic', fill: LABEL, color: LABEL, lineHeight: 5, verticalAlign: 'bottom'}
      }
    }
  });
});

const chart = echarts.init(document.getElementById('c'));
chart.setOption({
  animation: false,
  backgroundColor: '#ffffff',
  grid: grids, xAxis: xAxes, yAxis: yAxes, series: series, graphic: graphics
});
</script>
</body></html>
